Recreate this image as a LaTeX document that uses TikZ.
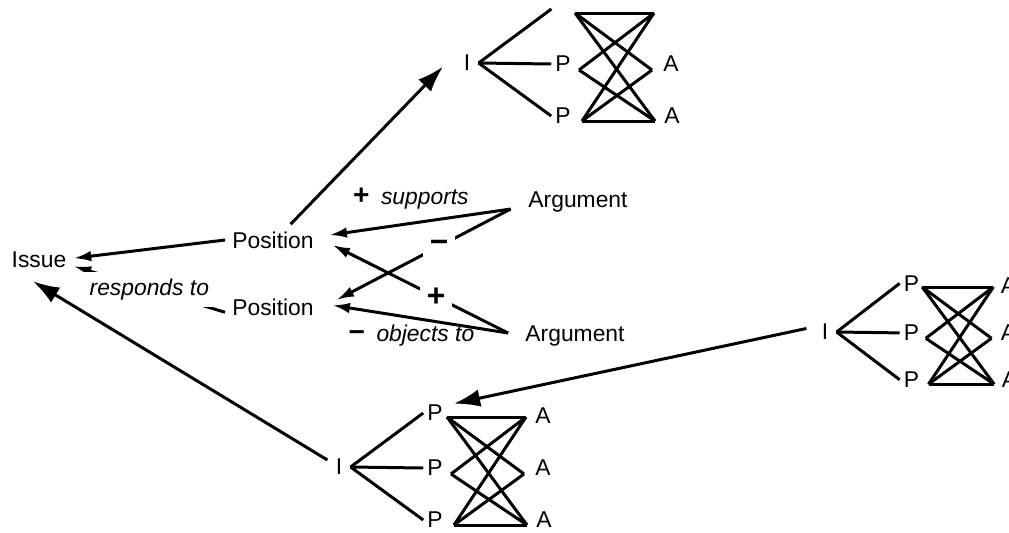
\documentclass[tikz,border=0pt]{standalone}
\usepackage{fontspec}
\setmainfont{Liberation Sans}
\usetikzlibrary{arrows.meta}

\begin{document}
\begin{tikzpicture}[x=0.02cm,y=-0.02cm,line width=1.7pt,
  font=\fontsize{13}{15}\selectfont,
  arr/.style={-{Latex[length=10pt,width=6pt]}},
  bigarr/.style={-{Latex[length=15pt,width=10pt]}},
  rel/.style={font=\fontsize{13}{15}\selectfont\itshape},
  sign/.style={font=\fontsize{18}{18}\selectfont\bfseries},
  gap/.style={fill=white,inner sep=4pt},
  lbl/.style={inner sep=1.5pt,minimum width=11.5pt}]
\useasboundingbox (0,0) rectangle (1009,532);
% issue, positions, arguments
\node (issue) at (39,260) {Issue};
\node (pos1) at (273,240) {Position};
\node (pos2) at (273,307) {Position};
\node (arg1) at (578,202) {Argument};
\node (arg2) at (575,336) {Argument};
\coordinate (a1) at ([xshift=-6pt,yshift=-4pt]arg1.west);
\coordinate (a2) at ([xshift=-5.7pt,yshift=1.7pt]arg2.west);
% small I-P-A clusters
\foreach \n/\x/\y/\s/\tp/\ta in {t/467/63/1/{}/{}, b/339/467/1/P/A, r/825/332/0.9/P/A} {
  \begin{scope}[shift={(\x,\y)},scale=\s]
    \node[lbl] (\n-i) at (0,0) {I};
    \node[lbl] (\n-p1) at (96,-54) {\tp};
    \node[lbl] (\n-p2) at (96,1) {P};
    \node[lbl] (\n-p3) at (96,53) {P};
    \node[lbl] (\n-a1) at (204,-51) {\ta};
    \node[lbl] (\n-a2) at (204,1) {A};
    \node[lbl] (\n-a3) at (205,53) {A};
    \coordinate (\n-l1) at (108,-50);
    \coordinate (\n-r1) at (187,-50);
    \coordinate (\n-l2) at (112,7);
    \coordinate (\n-r2) at (185,7);
    \coordinate (\n-l3) at (115,58);
    \coordinate (\n-r3) at (188,58);
  \end{scope}
  \foreach \k in {1,2,3}
    \draw (\n-i.east) -- (\n-p\k.west);
  \foreach \a/\b in {1/1,1/2,1/3,2/1,2/3,3/1,3/2,3/3}
    \draw (\n-l\a) -- (\n-r\b);
}
% responds to
\draw[arr] (pos1.west) -- ([yshift=1pt]issue.east);
\draw[arr] ([yshift=-3pt]pos2.west) -- node[rel,gap] {responds to} ([yshift=-3.5pt]issue.east);
\draw[bigarr] ([xshift=10pt]pos1.north) -- ([xshift=-7pt,yshift=-2pt]t-i.west);
\draw[bigarr] ([yshift=4pt]b-i.west) -- ([xshift=-3.4pt,yshift=-3.4pt]issue.south);
\draw[bigarr] ([xshift=-4pt,yshift=2pt]r-i.west) -- ([xshift=4pt,yshift=-1.5pt]b-p1.north east);
% supports / objects to
\draw[arr] (a1) -- node[pos=0.55,above=4pt] {{\fontsize{16}{16}\selectfont\bfseries +}\enspace\textit{supports}} ([xshift=4.8pt,yshift=2.8pt]pos1.east);
\draw[arr] (a1) -- node[pos=0.41,gap,sign] {−} ([xshift=8.8pt,yshift=4pt]pos2.east);
\draw[arr] (a2) -- node[pos=0.41,gap,sign] {+} ([xshift=6.5pt,yshift=-2.8pt]pos1.east);
\draw[arr] (a2) -- node[pos=0.55,below=0pt] {{\fontsize{16}{16}\selectfont\bfseries −}\enspace\textit{objects to}} ([xshift=6.5pt,yshift=1pt]pos2.east);
\end{tikzpicture}
\end{document}
